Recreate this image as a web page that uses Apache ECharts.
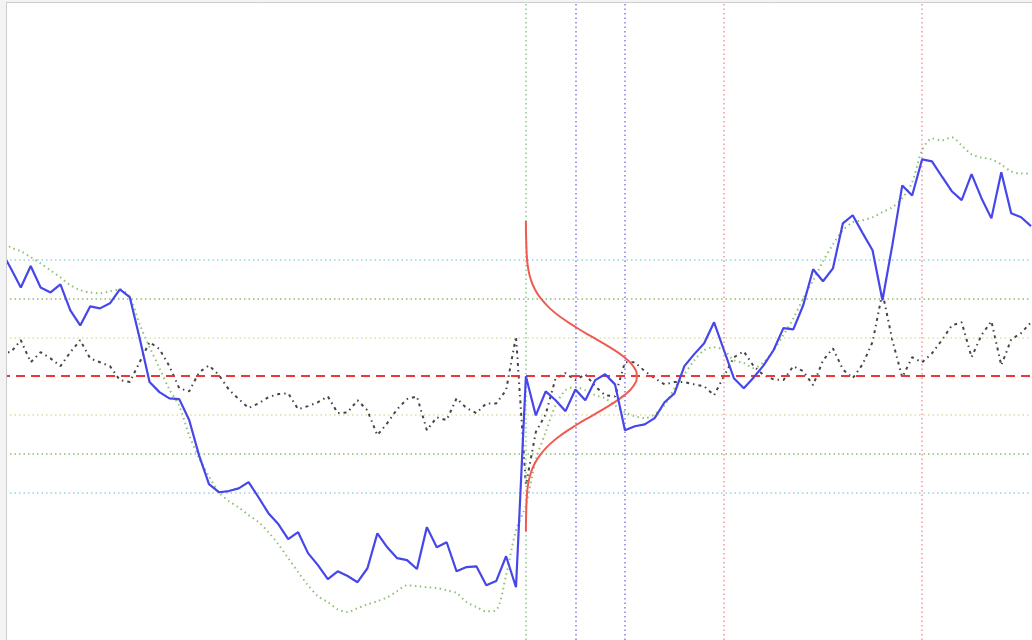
<!DOCTYPE html>
<html>
<head>
<meta charset="utf-8">
<script src="https://cdn.jsdelivr.net/npm/echarts@6/dist/echarts.min.js"></script>
<style>
  html, body { margin: 0; padding: 0; background: #fff; }
  #chart { width: 1032px; height: 640px; }
</style>
</head>
<body>
<div id="chart"></div>
<script>
// values in standard-deviation units, 0 = mean (red dashed line)
let price = [3.25, 2.78, 2.29, 2.84, 2.29, 2.16, 2.37, 1.70, 1.31, 1.80, 1.75, 1.88, 2.24, 2.04, 0.98, -0.15, -0.41, -0.57, -0.59, -1.13,
    -2.04, -2.78, -2.99, -2.96, -2.89, -2.73, -3.12, -3.53, -3.81, -4.20, -4.02, -4.56, -4.87, -5.23, -5.03, -5.15, -5.31, -4.95, -4.05, -4.41,
    -4.69, -4.74, -4.97, -3.89, -4.41, -4.28, -5.03, -4.92, -4.90, -5.39, -5.28, -4.64, -5.44, 0.00, -1.01, -0.39, -0.62, -0.90, -0.34, -0.62,
    -0.10, 0.05, -0.21, -1.39, -1.29, -1.24, -1.08, -0.67, -0.44, 0.26, 0.57, 0.85, 1.39, 0.67, -0.05, -0.31, -0.03, 0.28, 0.67, 1.24,
    1.21, 1.83, 2.76, 2.45, 2.78, 3.94, 4.15, 3.69, 3.25, 1.96, 3.38, 4.92, 4.66, 5.59, 5.54, 5.15, 4.77, 4.54, 5.21, 4.59,
    4.07, 5.26, 4.20, 4.10, 3.87];

let smoothed = [3.51, 3.32, 3.22, 3.07, 2.91, 2.73, 2.55, 2.35, 2.22, 2.16, 2.14, 2.19, 2.24, 2.04, 1.34, 0.75, 0.21, -0.34, -0.77, -1.52,
    -2.11, -2.58, -2.99, -3.22, -3.38, -3.58, -3.76, -4.02, -4.33, -4.69, -5.05, -5.39, -5.67, -5.82, -6.01, -6.08, -5.98, -5.88, -5.80, -5.70,
    -5.54, -5.39, -5.41, -5.44, -5.46, -5.52, -5.59, -5.82, -5.95, -6.06, -6.03, -5.13, -3.97, -3.32, -2.16, -1.44, -0.75, -0.36, -0.28, -0.36,
    -0.49, -0.57, -0.75, -0.93, -1.03, -1.08, -0.98, -0.75, -0.31, 0.05, 0.41, 0.67, 0.75, 0.67, 0.41, 0.34, 0.21, 0.36, 0.67, 1.06,
    1.49, 2.01, 2.47, 2.96, 3.40, 3.76, 3.97, 4.02, 4.10, 4.23, 4.36, 4.59, 5.00, 5.82, 6.13, 6.08, 6.16, 5.95, 5.72, 5.64,
    5.59, 5.46, 5.28, 5.23, 5.23];

let spread = [0.62, 0.62, 0.93, 0.36, 0.62, 0.46, 0.26, 0.62, 0.93, 0.46, 0.36, 0.26, -0.10, -0.15, 0.36, 0.88, 0.70, 0.26, -0.31, -0.39,
    0.10, 0.28, 0.03, -0.34, -0.59, -0.82, -0.70, -0.54, -0.46, -0.44, -0.85, -0.77, -0.67, -0.52, -0.95, -0.93, -0.62, -0.88, -1.52, -1.21,
    -0.85, -0.59, -0.52, -1.39, -1.06, -1.13, -0.57, -0.82, -0.95, -0.70, -0.70, -0.36, 1.03, -2.81, -1.44, -0.98, -0.05, 0.08, -0.10, 0.05,
    -0.26, -0.49, -0.52, 0.36, 0.36, 0.13, -0.05, -0.21, -0.15, -0.15, -0.21, -0.26, -0.49, 0.00, 0.49, 0.64, 0.26, 0.03, -0.08, -0.10,
    0.26, 0.13, -0.23, 0.41, 0.72, 0.18, -0.05, 0.31, 0.88, 2.16, 0.93, -0.03, 0.49, 0.36, 0.59, 0.93, 1.31, 1.39, 0.49, 1.06,
    1.42, 0.28, 0.95, 1.11, 1.39];

// sigma bands and marked sample indices
let bandLevels = [3, 2, 1, -1, -2, -3];
let markedIdx = [53, 58, 63, 73, 93];

// sideways normal curve, drawn from index 53
let bellBase = 53;
let bellZ = [-4, -3.5, -3, -2.75, -2.5, -2.25, -2, -1.75, -1.5, -1.25, -1, -0.75, -0.5, -0.25, 0,
    0.25, 0.5, 0.75, 1, 1.25, 1.5, 1.75, 2, 2.25, 2.5, 2.75, 3, 3.5, 4];
let bellW = [0, 0.03, 0.12, 0.25, 0.49, 0.89, 1.52, 2.42, 3.64, 5.13, 6.79, 8.45, 9.88, 10.86, 11.2,
    10.86, 9.88, 8.45, 6.79, 5.13, 3.64, 2.42, 1.52, 0.89, 0.49, 0.25, 0.12, 0.03, 0];

let bandColors = { 3: '#93d4e2', 2: '#8cbf6e', 1: '#e0e0a0', '-1': '#e0e0a0', '-2': '#8cbf6e', '-3': '#93d4e2' };
let markColors = { 53: '#8cc98c', 58: '#7c7cec', 63: '#7c7cec', 73: '#f09a9a', 93: '#f09a9a' };

let toXY = arr => arr.map((v, i) => [i, v]);

let option = {
    animation: false,
    backgroundColor: '#fff',
    grid: { left: 1, right: 1, top: 0, bottom: 0 },
    xAxis: { type: 'value', min: 0, max: 104, show: false },
    yAxis: { type: 'value', min: -6.8, max: 9.7, show: false },
    graphic: [
        { type: 'rect', z: 100, shape: { x: 0, y: 0, width: 6, height: 640 }, style: { fill: '#f3f3f3' } },
        { type: 'rect', z: 100, shape: { x: 0, y: 0, width: 1032, height: 2 }, style: { fill: '#f3f3f3' } },
        { type: 'line', z: 101, shape: { x1: 6.5, y1: 2, x2: 6.5, y2: 640 }, style: { stroke: '#cdcdcd', lineWidth: 1 } },
        { type: 'line', z: 101, shape: { x1: 6, y1: 2.5, x2: 1032, y2: 2.5 }, style: { stroke: '#cdcdcd', lineWidth: 1 } }
    ],
    series: [
        {
            type: 'line',
            data: [],
            markLine: {
                silent: true,
                symbol: 'none',
                label: { show: false },
                data: bandLevels.map(l => ({
                    yAxis: l,
                    lineStyle: { color: bandColors[l], width: 1.5, type: [1.5, 3] }
                })).concat(markedIdx.map(k => ({
                    xAxis: k,
                    lineStyle: { color: markColors[k], width: 1.5, type: [1.5, 3] }
                })))
            }
        },
        {
            name: 'mean',
            type: 'line',
            data: [],
            markLine: {
                silent: true,
                symbol: 'none',
                label: { show: false },
                data: [{ yAxis: 0 }],
                lineStyle: { color: '#e8383a', width: 2, type: [9, 6] }
            },
            z: 4
        },
        {
            name: 'spread',
            type: 'line',
            data: toXY(spread),
            showSymbol: false,
            lineStyle: { color: '#454545', width: 2, type: [3, 4, 1.5, 4] },
            z: 3
        },
        {
            name: 'smoothed',
            type: 'line',
            data: toXY(smoothed),
            showSymbol: false,
            smooth: 0.3,
            lineStyle: { color: '#8fc272', width: 2, type: [1.5, 3.5] },
            z: 3
        },
        {
            name: 'normal',
            type: 'line',
            data: bellZ.map((z, i) => [bellBase + bellW[i], z]),
            showSymbol: false,
            smooth: true,
            lineStyle: { color: '#f05a50', width: 2 },
            z: 5
        },
        {
            name: 'price',
            type: 'line',
            data: toXY(price),
            showSymbol: false,
            lineStyle: { color: '#4646ea', width: 2.2 },
            z: 6
        }
    ]
};

let chart = echarts.init(document.getElementById('chart'));
chart.setOption(option);
</script>
</body>
</html>
